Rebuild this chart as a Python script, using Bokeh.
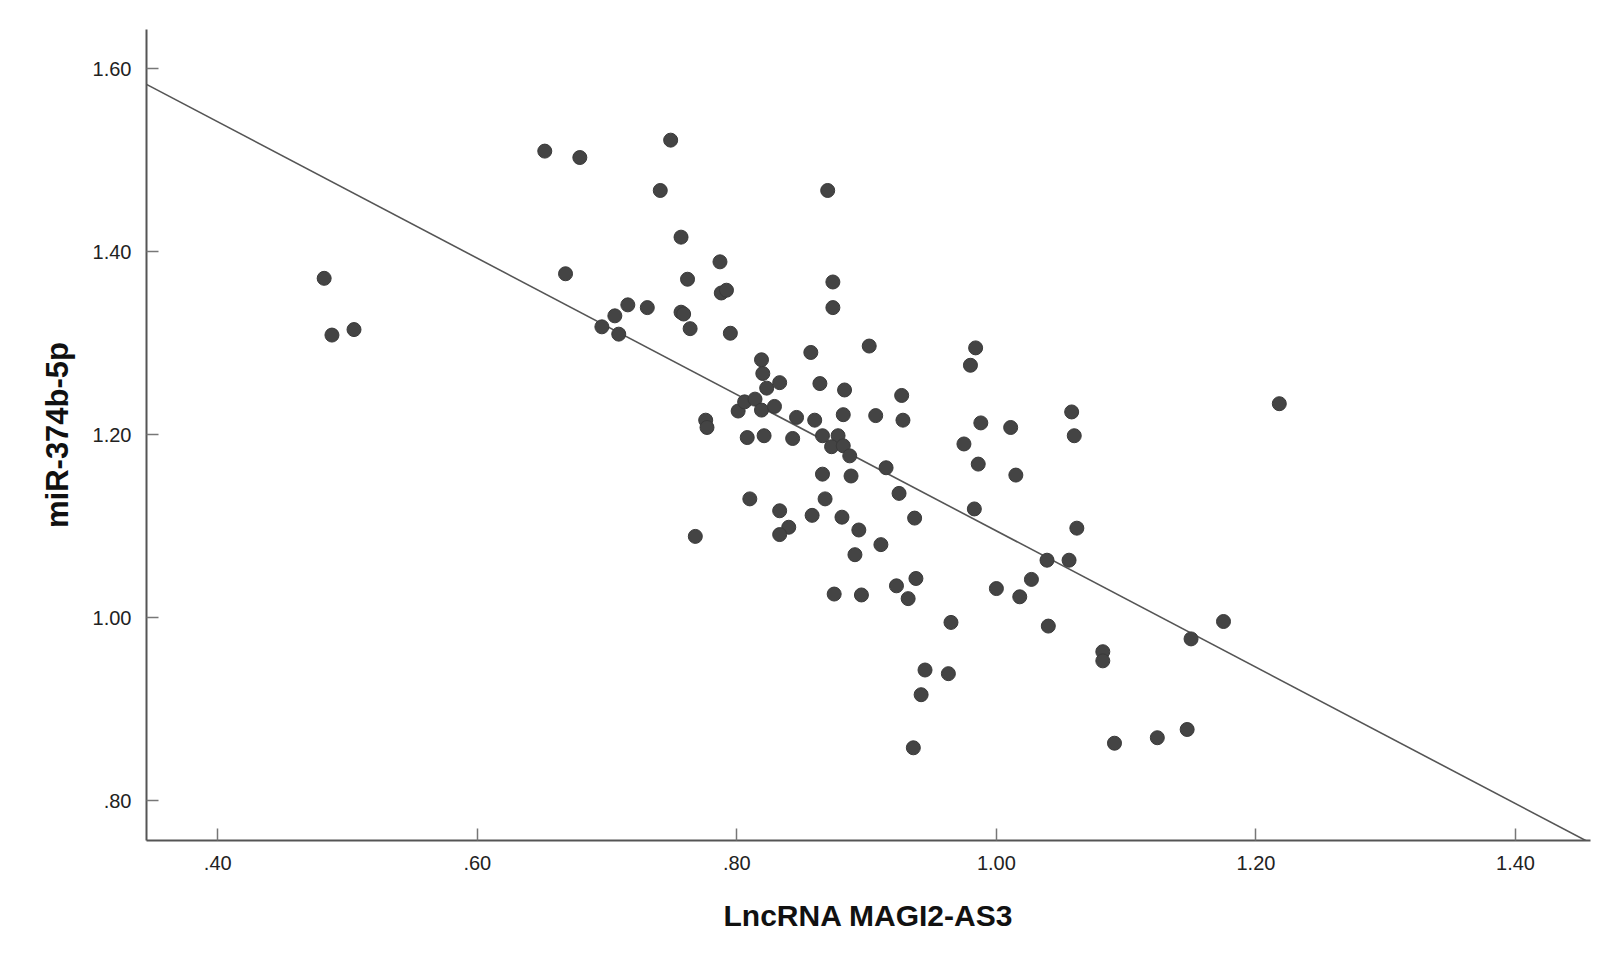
from bokeh.plotting import figure
from bokeh.models import Range1d, FixedTicker, ColumnDataSource
from bokeh.embed import file_html
from bokeh.resources import INLINE

# ---- data ----
lnc_magi2_as3 = [
    0.482, 0.488, 0.505, 0.652, 0.679, 0.668, 0.696, 0.706, 0.709, 0.716,
    0.731, 0.749, 0.741, 0.757, 0.762, 0.757, 0.759, 0.764, 0.787, 0.788,
    0.792, 0.795, 0.768, 0.776, 0.777, 0.801, 0.808, 0.806, 0.814, 0.819,
    0.820, 0.823, 0.819, 0.821, 0.833, 0.829, 0.810, 0.833, 0.840, 0.833,
    0.843, 0.846, 0.857, 0.860, 0.864, 0.858, 0.870, 0.874, 0.874, 0.866,
    0.878, 0.873, 0.882, 0.887, 0.866, 0.868, 0.875, 0.883, 0.882, 0.888,
    0.881, 0.894, 0.891, 0.896, 0.902, 0.907, 0.911, 0.915, 0.925, 0.927,
    0.928, 0.937, 0.923, 0.938, 0.932, 0.936, 0.942, 0.945, 0.963, 0.965,
    0.975, 0.980, 0.984, 0.988, 0.986, 0.983, 1.000, 1.011, 1.015, 1.018,
    1.027, 1.039, 1.040, 1.056, 1.058, 1.060, 1.062, 1.082, 1.082, 1.091,
    1.124, 1.147, 1.150, 1.175, 1.218,
]
mir_374b_5p = [
    1.371, 1.309, 1.315, 1.510, 1.503, 1.376, 1.318, 1.330, 1.310, 1.342,
    1.339, 1.522, 1.467, 1.416, 1.370, 1.334, 1.332, 1.316, 1.389, 1.355,
    1.358, 1.311, 1.089, 1.216, 1.208, 1.226, 1.197, 1.236, 1.239, 1.282,
    1.267, 1.251, 1.227, 1.199, 1.257, 1.231, 1.130, 1.117, 1.099, 1.091,
    1.196, 1.219, 1.290, 1.216, 1.256, 1.112, 1.467, 1.367, 1.339, 1.199,
    1.199, 1.187, 1.188, 1.177, 1.157, 1.130, 1.026, 1.249, 1.222, 1.155,
    1.110, 1.096, 1.069, 1.025, 1.297, 1.221, 1.080, 1.164, 1.136, 1.243,
    1.216, 1.109, 1.035, 1.043, 1.021, 0.858, 0.916, 0.943, 0.939, 0.995,
    1.190, 1.276, 1.295, 1.213, 1.168, 1.119, 1.032, 1.208, 1.156, 1.023,
    1.042, 1.063, 0.991, 1.063, 1.225, 1.199, 1.098, 0.963, 0.953, 0.863,
    0.869, 0.878, 0.977, 0.996, 1.234,
]

fit_slope = -0.745
fit_intercept = 1.840

x_tick_values = [0.4, 0.6, 0.8, 1.0, 1.2, 1.4]
x_tick_labels = [".40", ".60", ".80", "1.00", "1.20", "1.40"]
y_tick_values = [0.8, 1.0, 1.2, 1.4, 1.6]
y_tick_labels = [".80", "1.00", "1.20", "1.40", "1.60"]

x_title = "LncRNA MAGI2-AS3"
y_title = "miR-374b-5p"

x_lo, x_hi = 0.3451, 1.4578
y_lo, y_hi = 0.7567, 1.6429

# ---- figure ----
p = figure(width=1600, height=940, output_backend="svg", toolbar_location=None,
           x_range=Range1d(x_lo, x_hi), y_range=Range1d(y_lo, y_hi),
           min_border_left=146, min_border_right=10, min_border_top=29,
           min_border_bottom=100)
p.outline_line_color = None
p.grid.visible = False
p.background_fill_color = "white"
p.border_fill_color = "white"

# regression line
fit_x = [x_lo, x_hi]
fit_y = [fit_intercept + fit_slope * v for v in fit_x]
p.line(fit_x, fit_y, line_color="#555555", line_width=1.6)

src = ColumnDataSource(dict(x=lnc_magi2_as3, y=mir_374b_5p))
p.scatter("x", "y", source=src, size=14, fill_color="#444444",
          line_color="#3a3a3a", line_width=1)

font = "Liberation Sans"
for ax, vals, labs in ((p.xaxis[0], x_tick_values, x_tick_labels),
                       (p.yaxis[0], y_tick_values, y_tick_labels)):
    ax.ticker = FixedTicker(ticks=vals, minor_ticks=[])
    ax.major_label_overrides = {v: l for v, l in zip(vals, labs)}
    ax.major_tick_in = 12
    ax.major_tick_out = 0
    ax.minor_tick_in = 0
    ax.minor_tick_out = 0
    ax.axis_line_color = "#555555"
    ax.axis_line_width = 2
    ax.major_tick_line_color = "#777777"
    ax.major_tick_line_width = 1.5
    ax.major_label_text_font = font
    ax.major_label_text_font_size = "20px"
    ax.major_label_text_color = "#222222"
    ax.axis_label_text_font = font
    ax.axis_label_text_font_style = "bold"
    ax.axis_label_text_color = "#111111"

p.xaxis[0].axis_label = x_title
p.yaxis[0].axis_label = y_title
p.xaxis[0].axis_label_text_font_size = "30px"
p.yaxis[0].axis_label_text_font_size = "31px"
p.xaxis[0].major_label_standoff = 15
p.xaxis[0].axis_label_standoff = 26
p.yaxis[0].major_label_standoff = 15
p.yaxis[0].axis_label_standoff = 15

open("out.html", "w").write(file_html(p, INLINE))
